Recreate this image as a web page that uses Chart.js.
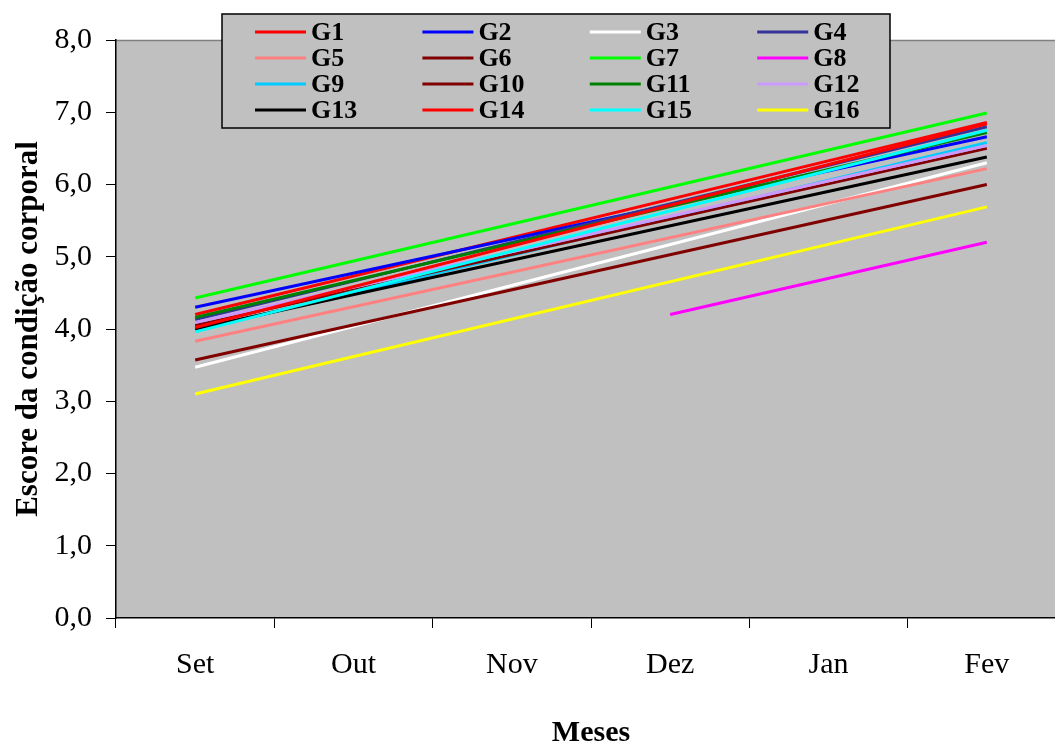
<!DOCTYPE html>
<html>
<head>
<meta charset="utf-8">
<script src="https://cdn.jsdelivr.net/npm/chart.js@4/dist/chart.umd.min.js"></script>
<style>
  html, body { margin: 0; padding: 0; background: #ffffff; overflow: hidden; width: 1055px; height: 744px; }
  canvas { display: block; }
</style>
</head>
<body>
<canvas id="c" width="1066" height="744"></canvas>
<script>
const months = ['Set', 'Out', 'Nov', 'Dez', 'Jan', 'Fev'];
const seriesNames = ['G1','G2','G3','G4','G5','G6','G7','G8','G9','G10','G11','G12','G13','G14','G15','G16'];
const G1  = [4.20, null, null, null, null, 6.86];
const G2  = [4.30, null, null, null, null, 6.66];
const G3  = [3.47, null, null, null, null, 6.30];
const G4  = [4.13, null, null, null, null, 6.80];
const G5  = [3.83, null, null, null, null, 6.22];
const G6  = [3.57, null, null, null, null, 6.00];
const G7  = [4.43, null, null, null, null, 6.99];
const G8  = [null, null, null, 4.20, null, 5.20];
const G9  = [3.98, null, null, null, null, 6.58];
const G10 = [4.05, null, null, null, null, 6.50];
const G11 = [4.16, null, null, null, null, 6.72];
const G12 = [4.09, null, null, null, null, 6.54];
const G13 = [4.00, null, null, null, null, 6.38];
const G14 = [4.02, null, null, null, null, 6.84];
const G15 = [3.96, null, null, null, null, 6.75];
const G16 = [3.10, null, null, null, null, 5.69];
const seriesValues = [G1,G2,G3,G4,G5,G6,G7,G8,G9,G10,G11,G12,G13,G14,G15,G16];
const seriesColors = ['#FF0000','#0000FF','#FFFFFF','#333399','#FF8080','#800000','#00FF00','#FF00FF',
                      '#00CCFF','#800000','#008000','#CC99FF','#000000','#FF0000','#00FFFF','#FFFF00'];
const yTickValues = [0,1,2,3,4,5,6,7,8];

const SERIF = "'Liberation Serif', 'Times New Roman', serif";

const bgPlugin = {
  id: 'plotBg',
  beforeDraw(chart) {
    const {ctx, chartArea: a} = chart;
    ctx.save();
    ctx.fillStyle = '#C0C0C0';
    ctx.fillRect(a.left, a.top, a.right - a.left, a.bottom - a.top);
    ctx.strokeStyle = '#808080';
    ctx.lineWidth = 1.5;
    ctx.beginPath();
    ctx.moveTo(a.left, a.top + 0.5);
    ctx.lineTo(a.right, a.top + 0.5);
    ctx.stroke();
    ctx.restore();
  }
};

const legendPlugin = {
  id: 'gridLegend',
  afterDraw(chart) {
    const ctx = chart.ctx;
    ctx.save();
    ctx.fillStyle = '#C0C0C0';
    ctx.fillRect(222, 14, 668, 114);
    ctx.strokeStyle = '#000000';
    ctx.lineWidth = 1.5;
    ctx.strokeRect(222, 14, 668, 114);
    ctx.font = "bold 26px " + SERIF;
    ctx.textBaseline = 'middle';
    ctx.textAlign = 'left';
    chart.data.datasets.forEach((ds, i) => {
      const col = i % 4, row = Math.floor(i / 4);
      const x0 = 255 + col * 167.4;
      const y = 32 + row * 26;
      ctx.strokeStyle = ds.borderColor;
      ctx.lineWidth = 3;
      ctx.beginPath();
      ctx.moveTo(x0, y);
      ctx.lineTo(x0 + 51, y);
      ctx.stroke();
      ctx.fillStyle = '#000000';
      ctx.fillText(ds.label, x0 + 56, y + 1);
    });
    ctx.restore();
  }
};

const datasets = seriesNames.map((name, i) => ({
  label: name,
  data: seriesValues[i],
  borderColor: seriesColors[i],
  backgroundColor: seriesColors[i],
  borderWidth: 3,
  pointRadius: 0,
  pointHoverRadius: 0,
  spanGaps: true,
  tension: 0,
  fill: false,
  order: seriesNames.length - i
}));

new Chart(document.getElementById('c'), {
  type: 'line',
  data: { labels: months, datasets: datasets },
  options: {
    responsive: false,
    animation: false,
    layout: { padding: { top: 40, right: 0, bottom: 0, left: 0 } },
    plugins: {
      legend: { display: false },
      tooltip: { enabled: false }
    },
    scales: {
      x: {
        type: 'category',
        offset: true,
        grid: { offset: true, drawOnChartArea: false, drawTicks: true, tickLength: 10, color: '#000000', lineWidth: 1 },
        border: { display: true, color: '#000000', width: 1.5 },
        ticks: { color: '#000000', font: { family: SERIF, size: 30 }, padding: 19, maxRotation: 0, autoSkip: false },
        title: { display: true, text: 'Meses', color: '#000000', font: { family: SERIF, size: 30, weight: 'bold', lineHeight: 0.7 }, padding: { top: 0, bottom: 0 } },
        afterFit(scale) { scale.height = 126; }
      },
      y: {
        min: 0,
        max: 8,
        afterBuildTicks(scale) { scale.ticks = yTickValues.map(v => ({ value: v })); },
        grid: { drawOnChartArea: false, drawTicks: true, tickLength: 10, color: '#000000', lineWidth: 1 },
        border: { display: true, color: '#000000', width: 1.5 },
        ticks: {
          color: '#000000',
          font: { family: SERIF, size: 30 },
          padding: 14,
          callback: (v) => Number(v).toFixed(1).replace('.', ',')
        },
        title: { display: true, text: 'Escore da condição corporal', color: '#000000', font: { family: SERIF, size: 31, weight: 'bold', lineHeight: 1.2 }, padding: { top: 10, bottom: 0 } },
        afterFit(scale) { scale.width = 116; }
      }
    }
  },
  plugins: [bgPlugin, legendPlugin]
});
</script>
</body>
</html>
